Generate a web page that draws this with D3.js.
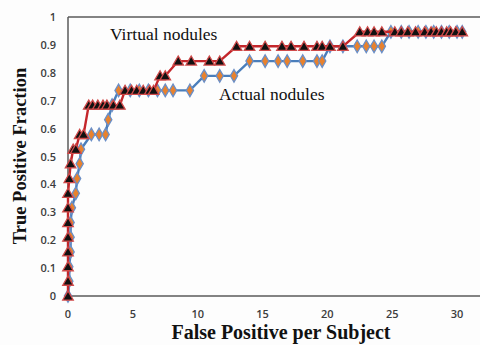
<!DOCTYPE html>
<html><head><meta charset="utf-8">
<script src="https://cdn.jsdelivr.net/npm/d3@7"></script>
<style>body{margin:0;background:#fdfdfd}</style>
</head><body>
<svg id="c" width="480" height="345"></svg>
<script>
const virtualFP = [0,0,0,0,0,0,0,0,0.1,0.2,0.4,0.6,0.9,1.2,1.6,1.9,2.3,2.7,3.0,3.5,4.0,4.4,4.9,5.3,5.8,6.3,6.6,7.1,7.5,8.5,9.5,10.9,11.7,13.0,14.0,15.2,16.5,17.2,18.2,19.2,19.6,20.2,21.2,22.5,23.1,23.6,24.2,25.2,25.7,26.2,26.8,27.5,28.0,28.4,28.8,29.2,29.5,29.9,30.4];
const virtualTPF = [0,0.053,0.105,0.158,0.211,0.263,0.316,0.368,0.421,0.474,0.526,0.526,0.579,0.579,0.684,0.684,0.684,0.684,0.684,0.684,0.684,0.737,0.737,0.737,0.737,0.737,0.737,0.789,0.789,0.842,0.842,0.842,0.842,0.895,0.895,0.895,0.895,0.895,0.895,0.895,0.895,0.895,0.895,0.947,0.947,0.947,0.947,0.947,0.947,0.947,0.947,0.947,0.947,0.947,0.947,0.947,0.947,0.947,0.947];
const actualFP = [0,0.1,0.1,0.2,0.2,0.2,0.3,0.6,0.7,0.9,1.0,1.8,2.4,2.9,3.1,3.4,3.9,4.8,5.5,6.2,6.9,7.5,8.1,9.4,10.5,11.7,12.8,14.0,15.2,16.2,16.9,18.1,19.2,19.6,20.2,21.2,22.3,23.0,23.6,24.2,24.9,25.7,26.3,27.0,27.6,28.2,28.8,29.4,30.0,30.4];
const actualTPF = [0,0.053,0.105,0.158,0.211,0.263,0.316,0.368,0.421,0.474,0.526,0.579,0.579,0.579,0.632,0.684,0.737,0.737,0.737,0.737,0.737,0.737,0.737,0.737,0.789,0.789,0.789,0.842,0.842,0.842,0.842,0.842,0.842,0.842,0.895,0.895,0.895,0.895,0.895,0.895,0.947,0.947,0.947,0.947,0.947,0.947,0.947,0.947,0.947,0.947];
const xTicks = [0,5,10,15,20,25,30];
const yTicks = [0,0.1,0.2,0.3,0.4,0.5,0.6,0.7,0.8,0.9,1];
const seriesLabels = ["Virtual nodules","Actual nodules"];
const xTitle = "False Positive per Subject";
const yTitle = "True Positive Fraction";

const svg = d3.select("#c");
const x = d3.scaleLinear().domain([0,31.77]).range([68,480]);
const y = d3.scaleLinear().domain([0,1]).range([296,17]);

svg.append("line").attr("x1",x(0)).attr("x2",x(31.77)).attr("y1",y(1)).attr("y2",y(1)).attr("stroke","#5a5a5a").attr("stroke-width",1.5);
svg.append("line").attr("x1",x(0)).attr("x2",x(31.77)).attr("y1",y(0)).attr("y2",y(0)).attr("stroke","#5a5a5a").attr("stroke-width",1.5);
svg.append("line").attr("x1",x(0)).attr("x2",x(0)).attr("y1",y(0)).attr("y2",y(1)).attr("stroke","#5a5a5a").attr("stroke-width",1.5);

const tickFont = "'Open Sans', 'Noto Sans', sans-serif";
svg.append("g").selectAll("text").data(yTicks).join("text")
  .attr("x",56).attr("y",d=>y(d)+4).attr("text-anchor","end")
  .attr("font-family",tickFont).attr("font-size",11).attr("font-weight",600).attr("fill","#3c3c3c")
  .text(d=>d3.format("")(+d.toFixed(1)));
svg.append("g").selectAll("text").data(xTicks).join("text")
  .attr("x",d=>x(d)).attr("y",318).attr("text-anchor","middle")
  .attr("font-family",tickFont).attr("font-size",11).attr("font-weight",600).attr("fill","#3c3c3c")
  .text(d=>d);

svg.append("text").attr("x",281).attr("y",339).attr("text-anchor","middle")
  .attr("font-family","'Liberation Serif', serif").attr("font-weight","bold").attr("font-size",20).attr("fill","#111")
  .text(xTitle);
svg.append("text").attr("transform","translate(26,156) rotate(-90)").attr("text-anchor","middle")
  .attr("font-family","'Liberation Serif', serif").attr("font-weight","bold").attr("font-size",18.5).attr("fill","#111")
  .text(yTitle);

const line = d3.line().x(d=>x(d[0])).y(d=>y(d[1]));
const actual = actualFP.map((v,i)=>[v,actualTPF[i]]);
const virtual = virtualFP.map((v,i)=>[v,virtualTPF[i]]);

svg.append("path").datum(actual).attr("d",line).attr("fill","none").attr("stroke","#4a7ebb").attr("stroke-width",2.4);
svg.append("g").selectAll("path").data(actual).join("path")
  .attr("transform",d=>`translate(${x(d[0])},${y(d[1])})`)
  .attr("d",d3.symbol(d3.symbolDiamond,46))
  .attr("fill","#e8822e").attr("stroke","#6a8fc8").attr("stroke-width",1.3);

svg.append("path").datum(virtual).attr("d",line).attr("fill","none").attr("stroke","#c4262b").attr("stroke-width",2.4);
svg.append("g").selectAll("path").data(virtual).join("path")
  .attr("transform",d=>`translate(${x(d[0])},${y(d[1])+1})`)
  .attr("d",d3.symbol(d3.symbolTriangle,48))
  .attr("fill","#111").attr("stroke","#d04a4a").attr("stroke-width",1.3);

svg.append("text").attr("x",110).attr("y",40).attr("font-family","'Liberation Serif', serif").attr("font-size",17.5).attr("fill","#111").text(seriesLabels[0]);
svg.append("text").attr("x",219).attr("y",100).attr("font-family","'Liberation Serif', serif").attr("font-size",17.5).attr("fill","#111").text(seriesLabels[1]);
</script>
</body></html>
